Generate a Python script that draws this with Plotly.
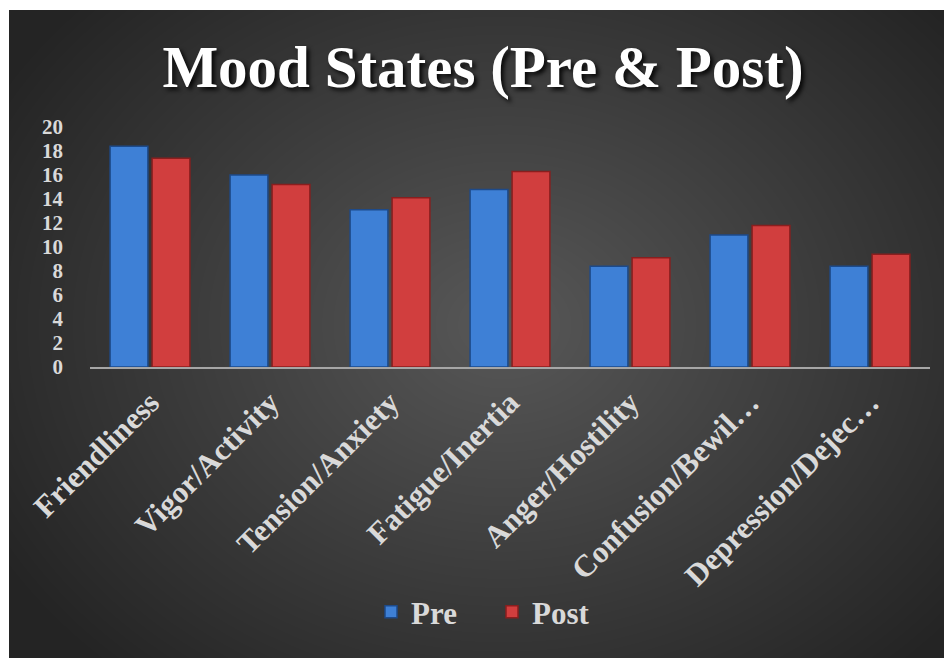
import base64
import struct
import zlib

import numpy as np
import plotly.graph_objects as go

# Chart data
categories = ["Friendliness", "Vigor/Activity", "Tension/Anxiety", "Fatigue/Inertia",
              "Anger/Hostility", "Confusion/Bewilderment", "Depression/Dejection"]
tick_labels = ["Friendliness", "Vigor/Activity", "Tension/Anxiety", "Fatigue/Inertia",
               "Anger/Hostility", "Confusion/Bewil…", "Depression/Dejec…"]
pre_values = [18.4, 16.0, 13.1, 14.8, 8.4, 11.0, 8.4]
post_values = [17.4, 15.2, 14.1, 16.3, 9.1, 11.8, 9.4]
y_ticks = list(range(0, 21, 2))


def gradient_png(w, h):
    """Radial dark-gray gradient as a data URI (no network needed)."""
    yy, xx = np.mgrid[0:h, 0:w]
    u = (xx / (w - 1) - 0.52) / 0.62
    v = (yy / (h - 1) - 0.48) / 0.72
    r = np.clip(np.sqrt(u ** 2 + v ** 2), 0, 1)
    val = (88 * (1 - r) + 36 * r).astype(np.uint8)
    arr = np.dstack([val, val, val])
    raw = b"".join(b"\x00" + row.tobytes() for row in arr)

    def chunk(tag, data):
        return (struct.pack(">I", len(data)) + tag + data
                + struct.pack(">I", zlib.crc32(tag + data) & 0xffffffff))

    png = (b"\x89PNG\r\n\x1a\n"
           + chunk(b"IHDR", struct.pack(">IIBBBBB", w, h, 8, 2, 0, 0, 0))
           + chunk(b"IDAT", zlib.compress(raw, 9))
           + chunk(b"IEND", b""))
    return "data:image/png;base64," + base64.b64encode(png).decode()


# Pixel geometry (page has an 8px body margin, so work in figure pixels)
W, H = 952, 658
OFF = 8
L, R, T, B = 90 - OFF, 930 - OFF, 127 - OFF, 367 - OFF


def px_x(px):
    return (px - L) / (R - L)


def px_y(py):
    return (B - py) / (B - T)


serif = "Liberation Serif, Times New Roman, serif"
label_color = "#d9d9d9"

fig = go.Figure()

fig.add_trace(go.Bar(
    x=categories,
    y=pre_values,
    name="Pre",
    marker=dict(color="#3e80d6", line=dict(color="#1d4a8a", width=1.5)),
))

fig.add_trace(go.Bar(
    x=categories,
    y=post_values,
    name="Post",
    marker=dict(color="#d13e3e", line=dict(color="#8a1e1e", width=1.5)),
))

fig.update_layout(
    width=W,
    height=H,
    margin=dict(l=L, r=W - R, t=T, b=H - B, autoexpand=False),
    paper_bgcolor="white",
    plot_bgcolor="rgba(0,0,0,0)",
    barmode="group",
    bargap=0.3,
    bargroupgap=0.1,
    title=dict(
        text="Mood States (Pre & Post)",
        x=(483 - OFF) / W,
        xref="container",
        xanchor="center",
        y=1 - (66 - OFF) / H,
        yref="container",
        yanchor="middle",
        font=dict(family=serif, size=59, color="white", weight="bold",
                  shadow="3px 3px 4px rgba(0,0,0,0.85)"),
    ),
    xaxis=dict(
        tickvals=categories,
        ticktext=tick_labels,
        tickangle=-45,
        tickfont=dict(family=serif, size=31, color=label_color, weight="bold"),
        ticklabelstandoff=3,
        showline=True,
        linecolor="#a6a6a6",
        linewidth=2,
        showgrid=False,
        zeroline=False,
        automargin=False,
    ),
    yaxis=dict(
        range=[0, 20],
        tickvals=y_ticks,
        tickfont=dict(family=serif, size=21, color=label_color, weight="bold"),
        showgrid=False,
        zeroline=False,
        showline=False,
        ticklabelstandoff=26,
        automargin=False,
    ),
    legend=dict(
        orientation="h",
        x=px_x(492 - OFF),
        xanchor="center",
        y=px_y(612 - OFF),
        yanchor="middle",
        entrywidth=76,
        font=dict(family=serif, size=31, color=label_color, weight="bold"),
        bgcolor="rgba(0,0,0,0)",
    ),
    images=[dict(
        source=gradient_png(951, 656),
        xref="paper",
        yref="paper",
        x=px_x(9 - OFF),
        y=px_y(10 - OFF),
        sizex=px_x(W) - px_x(9 - OFF),
        sizey=px_y(10 - OFF) - px_y(H),
        xanchor="left",
        yanchor="top",
        sizing="stretch",
        layer="below",
    )],
)

fig.write_html("out.html")
